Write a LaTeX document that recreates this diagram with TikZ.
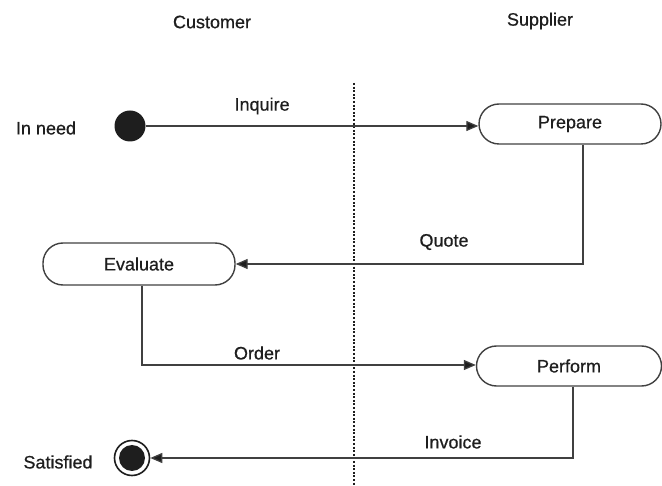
\documentclass[tikz,border=0pt]{standalone}
\usepackage{fontspec}
\setmainfont{Liberation Sans}[UprightFeatures={FakeBold=0.6}]
\usetikzlibrary{arrows.meta}
\definecolor{ink}{HTML}{1E1E1E}
\definecolor{wire}{HTML}{404040}
\begin{document}
\begin{tikzpicture}[x=1pt,y=-1pt,
  font=\fontsize{18}{20}\selectfont, text=ink,
  activity/.style={draw=wire, line width=1.4pt, rounded corners=20pt,
    minimum height=40pt, inner sep=0pt},
  flow/.style={draw=wire, line width=1.3pt,
    -{Triangle[length=12pt,width=10pt,fill=ink]}},
  lbl/.style={inner sep=0pt}]
  \useasboundingbox (0,0) rectangle (662,486);

  % swimlane separator and lane titles
  \coordinate (laneTop) at (354,83);
  \coordinate (laneBot) at (354,486);
  \draw[ink, line width=1.2pt, dash pattern=on 2pt off 1.6pt] (laneTop) -- (laneBot);
  \node[lbl] (customer) at (212,22) {Customer};
  \node[lbl] (supplier) at (540,21) {Supplier};

  % states
  \node[circle, fill=ink, minimum size=31pt, inner sep=0pt] (start) at (130,126) {};
  \node[lbl] (inneed) at (46,128) {In need};

  \node[activity, minimum width=182pt] (prepare) at (570,124) {Prepare};
  \node[activity, minimum width=192pt, minimum height=42pt] (evaluate) at (139,264) {Evaluate};
  \node[activity, minimum width=185pt] (perform) at (569,366) {Perform};

  \node[circle, draw=ink, line width=1.6pt, minimum size=35pt, inner sep=0pt] (final) at (132,458) {};
  \node[circle, fill=ink, minimum size=26pt, inner sep=0pt] (finalcore) at (final.center) {};
  \node[lbl] (satisfied) at (58,462) {Satisfied};

  % transitions
  \draw[flow] (start) -- (prepare.west |- start) node[lbl, pos=0.35, above=11pt] (inquire) {Inquire};
  \draw[flow] ([xshift=13pt]prepare.south) |- (evaluate.east);
  \node[lbl] (quote) at (444,242) {Quote};
  \draw[flow] ([xshift=3pt]evaluate.south) |- ([yshift=1pt]perform.west);
  \node[lbl] (order) at (257,353) {Order};
  \draw[flow] ([xshift=4pt]perform.south) |- (final.east);
  \node[lbl] (invoice) at (453,442) {Invoice};
\end{tikzpicture}
\end{document}
